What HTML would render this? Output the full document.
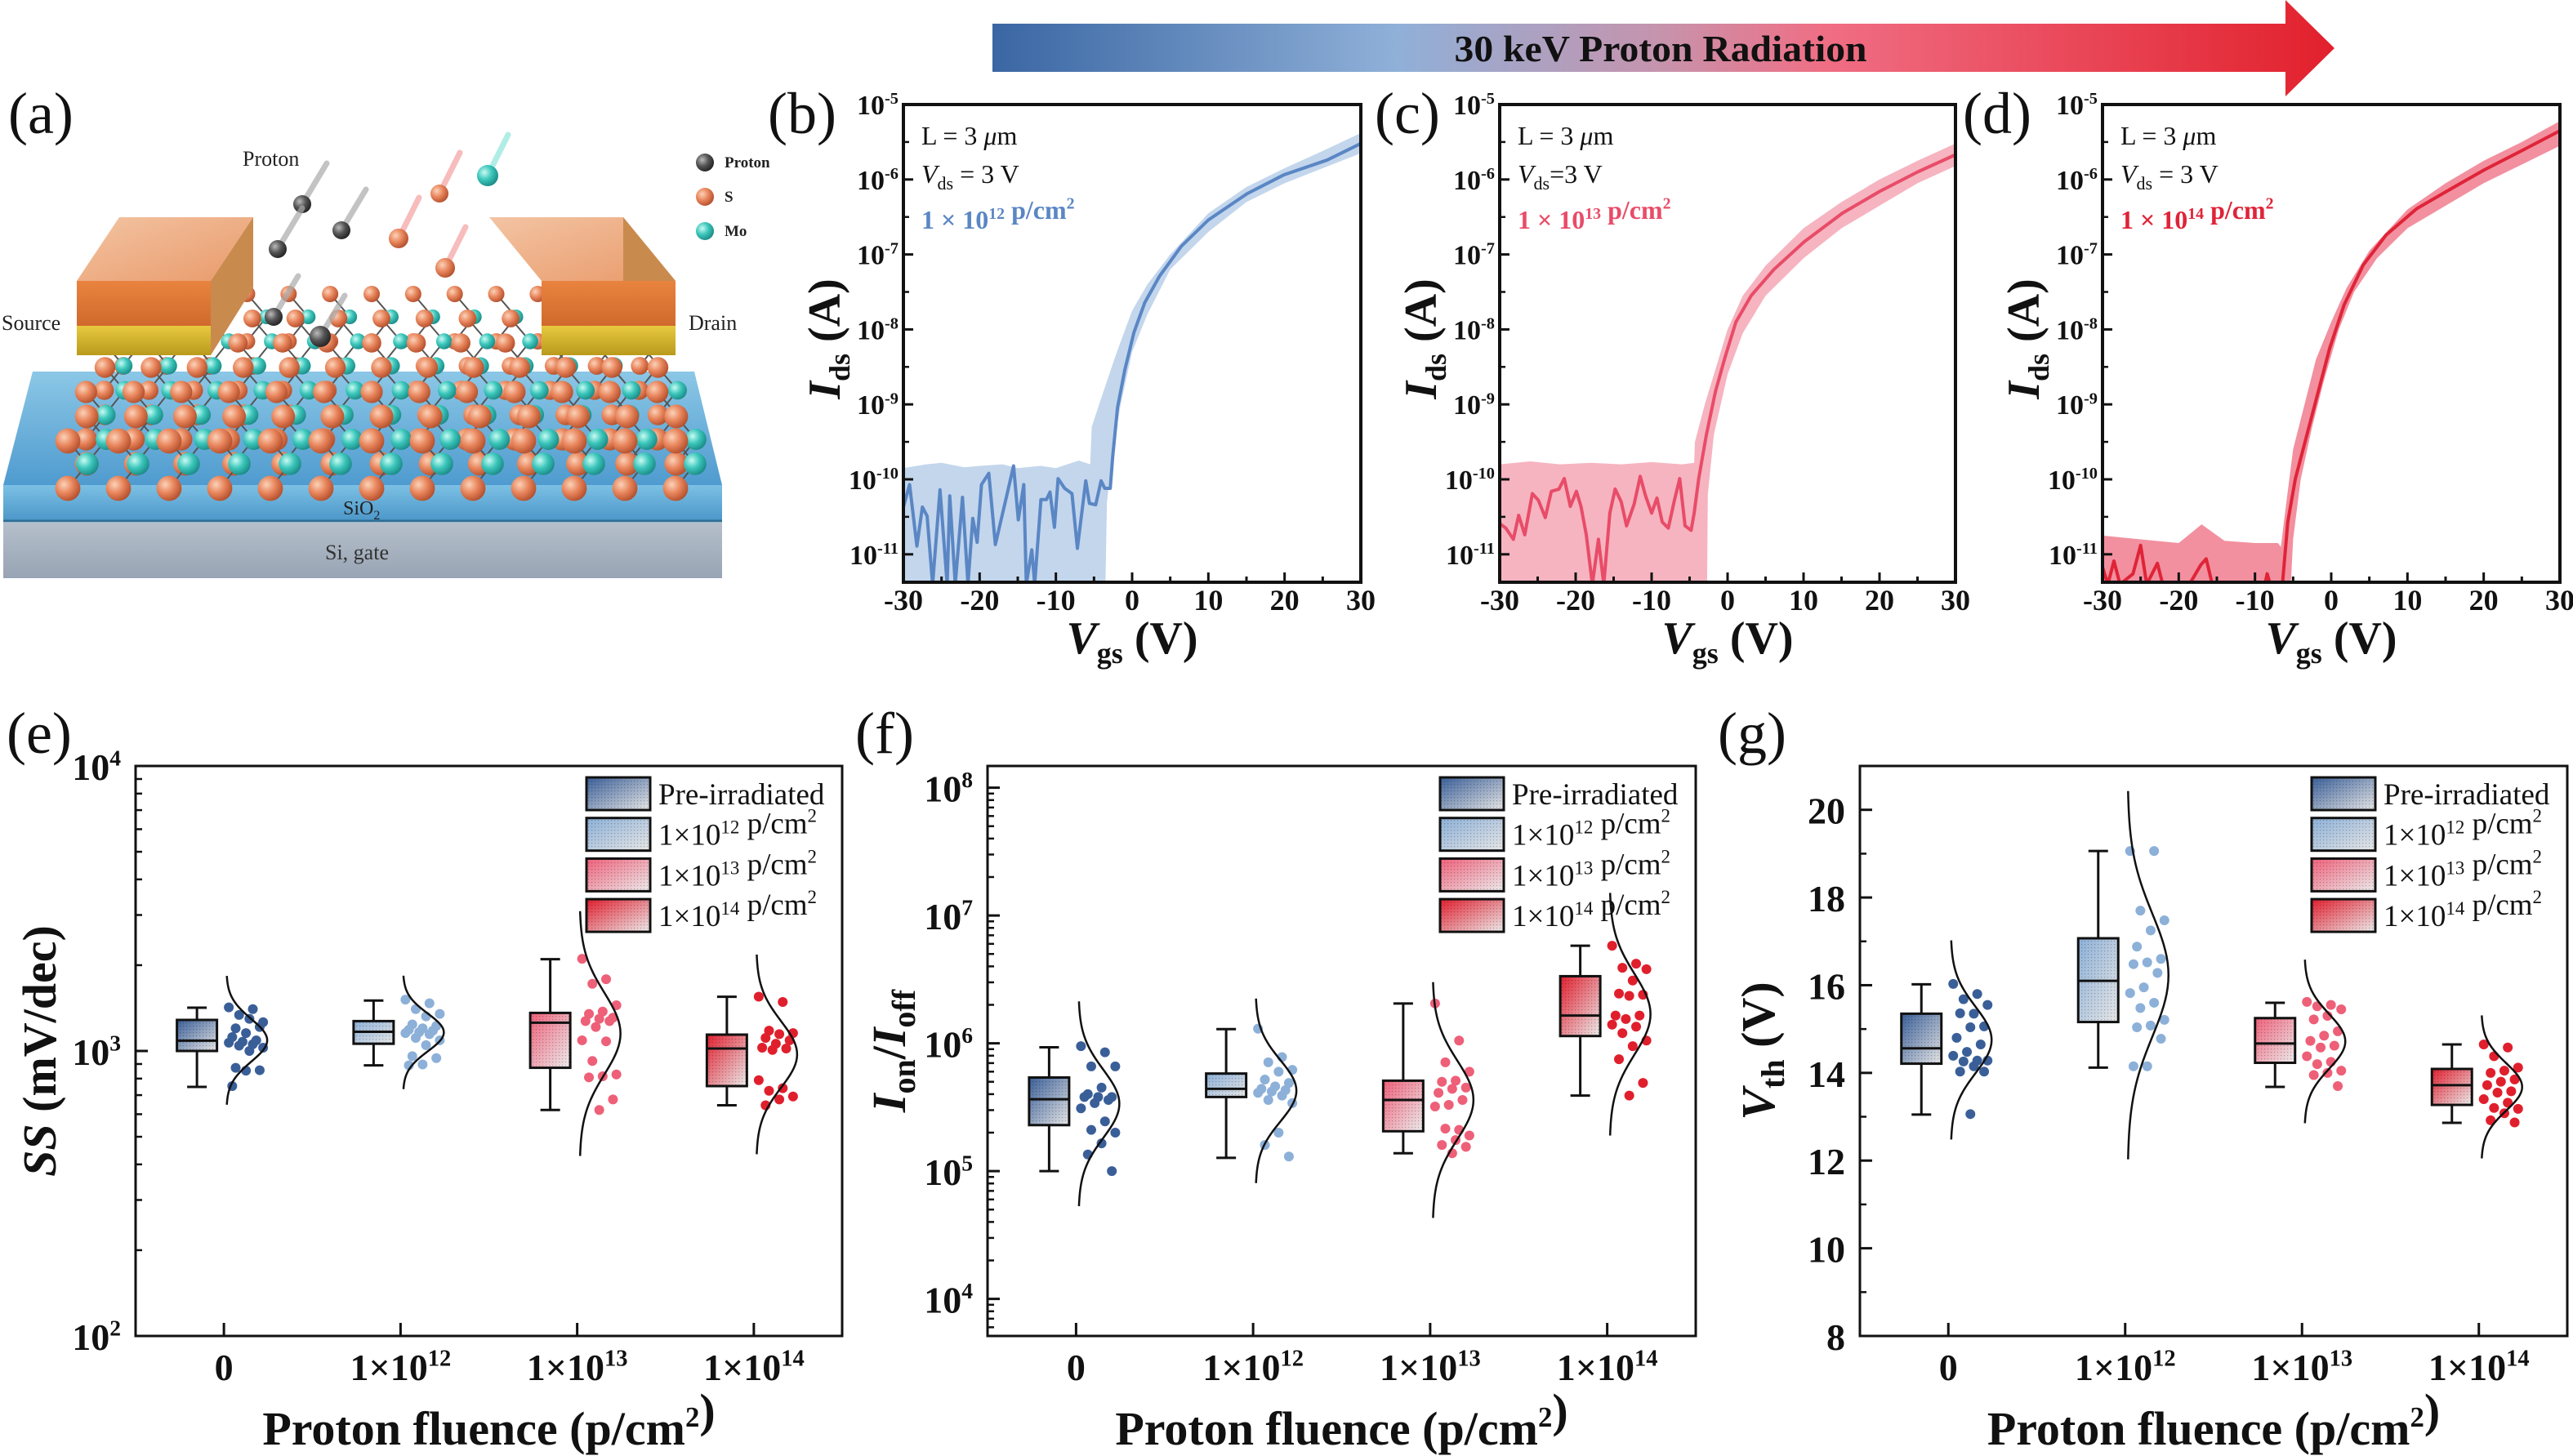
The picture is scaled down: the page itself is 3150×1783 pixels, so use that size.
<!DOCTYPE html>
<html><head><meta charset="utf-8"><style>
html,body{margin:0;padding:0;background:#fff;}
svg{display:block;font-family:"Liberation Serif",serif;}
</style></head><body>
<svg id="chart" width="3150" height="1783" viewBox="0 0 3150 1783" xmlns="http://www.w3.org/2000/svg">
<defs>
<linearGradient id="arrowGrad" x1="0" x2="1" y1="0" y2="0">
<stop offset="0" stop-color="#3a66a3"/><stop offset="0.3" stop-color="#8fb0d8"/><stop offset="0.5" stop-color="#c793ac"/><stop offset="0.62" stop-color="#f06e84"/><stop offset="1" stop-color="#e2202c"/></linearGradient>
<linearGradient id="g0" x1="0" y1="0" x2="1" y2="1"><stop offset="0" stop-color="#3a5f98"/><stop offset="1" stop-color="#e6e6e6"/></linearGradient>
<linearGradient id="g1" x1="0" y1="0" x2="1" y2="1"><stop offset="0" stop-color="#8cb0d8"/><stop offset="1" stop-color="#e6e6e6"/></linearGradient>
<linearGradient id="g2" x1="0" y1="0" x2="1" y2="1"><stop offset="0" stop-color="#f0607a"/><stop offset="1" stop-color="#ececec"/></linearGradient>
<linearGradient id="g3" x1="0" y1="0" x2="1" y2="1"><stop offset="0" stop-color="#e21e2e"/><stop offset="1" stop-color="#ececec"/></linearGradient>
<pattern id="stip" width="4" height="4" patternUnits="userSpaceOnUse"><rect x="0" y="0" width="1.2" height="1.2" fill="#000" opacity="0.25"/></pattern>
<linearGradient id="slabTop" x1="0" y1="0" x2="0" y2="1"><stop offset="0" stop-color="#8cc7e6"/><stop offset="1" stop-color="#4f9bcf"/></linearGradient>
<linearGradient id="slabFront" x1="0" y1="0" x2="0" y2="1"><stop offset="0" stop-color="#7cc0e4"/><stop offset="1" stop-color="#4b97c9"/></linearGradient>
<linearGradient id="siFront" x1="0" y1="0" x2="0" y2="1"><stop offset="0" stop-color="#b5bfcb"/><stop offset="1" stop-color="#98a4b4"/></linearGradient>
<linearGradient id="orange" x1="0" y1="0" x2="0" y2="1"><stop offset="0" stop-color="#e9833f"/><stop offset="1" stop-color="#d06a2c"/></linearGradient>
<linearGradient id="orangeTop" x1="0" y1="0" x2="1" y2="1"><stop offset="0" stop-color="#f3c4a3"/><stop offset="1" stop-color="#e99a6a"/></linearGradient>
<linearGradient id="gold" x1="0" y1="0" x2="0" y2="1"><stop offset="0" stop-color="#e8c940"/><stop offset="1" stop-color="#b99a1c"/></linearGradient>
<radialGradient id="sBall" cx="0.35" cy="0.35" r="0.7"><stop offset="0" stop-color="#fbd2b8"/><stop offset="0.5" stop-color="#e8855c"/><stop offset="1" stop-color="#b24f2c"/></radialGradient>
<radialGradient id="moBall" cx="0.35" cy="0.35" r="0.7"><stop offset="0" stop-color="#c8fbf3"/><stop offset="0.5" stop-color="#3cc6bb"/><stop offset="1" stop-color="#1a8a86"/></radialGradient>
<radialGradient id="pBall" cx="0.35" cy="0.35" r="0.7"><stop offset="0" stop-color="#bbbbbb"/><stop offset="0.5" stop-color="#555"/><stop offset="1" stop-color="#222"/></radialGradient>
</defs>
</svg>
<script>
// ---------- I-V data (b), (c), (d): Vgs in V, Ids as log10(A) ----------
const vgsB=[-30,-29.19,-28.23,-27.51,-26.89,-26.17,-25.2,-24.26,-23.92,-23.2,-22.25,-21.53,-20.9,-20.33,-19.76,-18.8,-17.94,-16.5,-15.55,-14.93,-14.21,-13.88,-13.16,-12.78,-11.96,-11.24,-10.77,-10.19,-9.71,-8.85,-7.89,-7.18,-6.08,-5.6,-4.78,-4.07,-3.59,-2.87,-2.54,-1.91,-0.96,0.24,1.67,3.59,6.46,10,15.07,19.86,25.6,30];
const idsLogB=[-10.37,-10.07,-10.89,-10.37,-10.49,-11.4,-10.14,-11.4,-10.22,-11.4,-10.24,-11.4,-10.52,-10.84,-10.07,-9.92,-10.87,-10.24,-9.82,-10.54,-10.07,-11.4,-10.94,-11.4,-10.27,-10.27,-10.17,-10.64,-9.99,-10.12,-10.19,-10.92,-10.02,-10.32,-10.34,-10.02,-10.12,-10.12,-9.69,-9.04,-8.54,-8.04,-7.64,-7.29,-6.89,-6.54,-6.19,-5.94,-5.74,-5.52];
const bandHiVgsB=[-30,-27,-25,-22,-20,-17,-15,-12,-10,-7,-5.5,-5.3,-4,-2,0,2,5,10,15,20,25,30];
const bandHiB=[-9.85,-9.8,-9.78,-9.84,-9.82,-9.8,-9.85,-9.82,-9.85,-9.75,-9.8,-9.3,-8.9,-8.3,-7.75,-7.4,-7.0,-6.45,-6.1,-5.85,-5.62,-5.38];
const bandLoVgsB=[-30,-3.5,-3.3,-2.5,-1.5,0,2,5,10,15,20,25,30];
const bandLoB=[-11.4,-11.4,-10.3,-9.6,-9.0,-8.3,-7.8,-7.2,-6.7,-6.3,-6.05,-5.85,-5.65];

const vgsC=[-30,-29.2,-28.2,-27.5,-26.7,-25.7,-24.9,-24,-23.2,-22.2,-21.5,-20.7,-19.9,-19.3,-18.6,-17.8,-17,-16.3,-15.5,-14.8,-14,-13.3,-12.3,-11.5,-10.8,-10,-9.3,-8.6,-7.8,-7,-6.3,-5.6,-4.8,-4.4,-3.8,-2.8,-1.6,-0.3,1.1,3.1,6.1,10.1,15.1,20,25,30];
const idsLogC=[-10.59,-10.65,-10.8,-10.48,-10.74,-10.19,-10.28,-10.51,-10.16,-10.13,-9.99,-10.36,-10.16,-10.36,-10.74,-11.4,-10.8,-11.4,-10.45,-10.13,-10.3,-10.62,-10.33,-9.96,-10.22,-10.45,-10.25,-10.57,-10.65,-10.28,-9.99,-10.62,-10.68,-10.45,-9.99,-9.41,-8.83,-8.36,-7.9,-7.55,-7.2,-6.83,-6.45,-6.16,-5.9,-5.67];
const bandHiVgsC=[-30,-26,-22,-18,-14,-10,-6,-4.4,-4.3,-3,-1.5,0,2,5,10,15,20,25,30];
const bandHiC=[-9.8,-9.76,-9.8,-9.78,-9.8,-9.77,-9.8,-9.78,-9.5,-9.0,-8.5,-8.0,-7.55,-7.15,-6.65,-6.3,-6.0,-5.75,-5.52];
const bandLoVgsC=[-30,-2.7,-2.6,-1.8,0,2,5,10,15,20,25,30];
const bandLoC=[-11.4,-11.4,-10.2,-9.4,-8.6,-8.05,-7.55,-7.05,-6.65,-6.35,-6.05,-5.82];

const vgsD=[-30,-29.3,-28.5,-27.7,-26,-25,-24.2,-22.8,-22.1,-18.6,-17.1,-16.4,-15.6,-8.7,-8.4,-8,-6.4,-5.7,-4.7,-3.2,-1.7,-0.2,1.7,4.2,7.2,11.2,15.1,20.1,25.1,30];
const idsLogD=[-11.17,-11.4,-11.09,-11.4,-11.26,-10.88,-11.4,-11.12,-11.4,-11.4,-11.14,-11.06,-11.4,-11.4,-11.26,-11.4,-11.4,-10.57,-9.99,-9.41,-8.83,-8.25,-7.67,-7.14,-6.74,-6.39,-6.16,-5.87,-5.61,-5.35];
const bandHiVgsD=[-30,-25,-20,-17,-14,-10,-7,-6.6,-6,-5,-3.5,-2,0,2,5,10,15,20,25,30];
const bandHiD=[-10.75,-10.8,-10.85,-10.6,-10.82,-10.85,-10.85,-10.9,-10.4,-9.6,-9.0,-8.4,-7.9,-7.45,-6.95,-6.4,-6.05,-5.75,-5.5,-5.22];
const bandLoVgsD=[-30,-5.3,-5,-4,-2.5,-1,1,3,6,10,15,20,25,30];
const bandLoD=[-11.4,-11.4,-10.8,-10.0,-9.3,-8.7,-8.0,-7.5,-7.05,-6.65,-6.35,-6.05,-5.8,-5.55];

// ---------- Box plot data ----------
const groupLabels=["0","1×10|12","1×10|13","1×10|14"];
const legendLabels=["Pre-irradiated","1×10|12| p/cm|2","1×10|13| p/cm|2","1×10|14| p/cm|2"];
// (e) SS in mV/dec
const ssWhiskerHi=[1419,1503,2099,1550];
const ssQ3=[1285,1273,1360,1141];
const ssMedian=[1087,1168,1257,1020];
const ssQ1=[1000,1060,873,753];
const ssWhiskerLo=[748,890,621,645];
const ssDots0=[1422,1402,1338,1262,1297,1201,1214,1155,1119,1090,1077,1069,1056,1044,1027,1000,873,856,853,753];
const ssDots1=[1514,1470,1402,1349,1323,1239,1224,1201,1187,1178,1164,1155,1146,1111,1090,1048,959,944,897,890];
const ssDots2=[2105,1786,1720,1447,1375,1349,1308,1297,1273,1273,1214,1090,1081,922,827,815,808,676,621];
const ssDots3=[1551,1486,1178,1155,1146,1111,1090,1060,1027,1020,1008,790,740,725,692,676,645];
// (f) Ion/Ioff
const onoffWhiskerHi=[9.3e5,1.29e6,2.05e6,5.8e6];
const onoffQ3=[5.4e5,5.8e5,5.1e5,3.35e6];
const onoffMedian=[3.65e5,4.4e5,3.6e5,1.65e6];
const onoffQ1=[2.29e5,3.8e5,2.05e5,1.14e6];
const onoffWhiskerLo=[1.0e5,1.27e5,1.38e5,3.9e5];
const onoffDots0=[9.5e5,8.5e5,6.6e5,6.6e5,4.5e5,4.0e5,3.8e5,3.8e5,3.8e5,3.6e5,3.4e5,3.1e5,2.45e5,2.1e5,2.0e5,1.65e5,1.35e5,1.0e5];
const onoffDots1=[1.3e6,7.8e5,7.1e5,6.2e5,6.0e5,5.2e5,4.9e5,4.6e5,4.4e5,4.3e5,4.2e5,4.1e5,3.9e5,3.6e5,3.4e5,2.0e5,1.6e5,1.3e5];
const onoffDots2=[2.05e6,1.05e6,7.1e5,6.0e5,5.1e5,5.0e5,4.5e5,4.4e5,4.1e5,3.6e5,3.3e5,3.2e5,2.1e5,2.15e5,1.9e5,1.75e5,1.6e5,1.55e5,1.38e5];
const onoffDots3=[5.8e6,4.2e6,3.9e6,3.8e6,3.1e6,2.45e6,2.4e6,2.35e6,1.65e6,1.65e6,1.55e6,1.4e6,1.35e6,1.2e6,1.05e6,9.5e5,7.5e5,4.9e5,3.9e5];
// (g) Vth in V
const vthWhiskerHi=[16.02,19.06,15.60,14.65];
const vthQ3=[15.35,17.07,15.25,14.09];
const vthMedian=[14.56,16.10,14.67,13.72];
const vthQ1=[14.21,15.16,14.23,13.27];
const vthWhiskerLo=[13.05,14.12,13.68,12.86];
const vthDots0=[16.03,15.80,15.68,15.55,15.35,15.36,15.06,15.04,14.80,14.65,14.48,14.39,14.28,14.26,14.28,14.15,14.03,14.03,13.06];
const vthDots1=[19.06,19.06,17.70,17.48,17.25,16.88,16.60,16.52,16.48,16.28,15.95,15.82,15.60,15.48,15.21,15.08,15.04,14.78,14.15,14.15];
const vthDots2=[15.62,15.55,15.52,15.45,15.30,15.22,14.95,14.85,14.73,14.62,14.58,14.38,14.25,14.20,14.05,14.00,13.95,13.70];
const vthDots3=[14.65,14.58,14.38,14.12,14.05,14.00,13.85,13.80,13.72,13.58,13.55,13.40,13.32,13.20,13.18,13.08,12.92,12.87];

const groupColors=["#3a5f98","#8cb0d8","#ee5f78","#e01f2d"];

const NS='http://www.w3.org/2000/svg';
const svg=document.getElementById('chart');
function mk(tag,attrs,parent){const e=document.createElementNS(NS,tag);for(const k in attrs)e.setAttribute(k,attrs[k]);(parent||svg).appendChild(e);return e;}
function rich(x,y,str,size,attrs,parent,supScale){
  const t=mk('text',Object.assign({x:x,y:y,'font-size':size},attrs||{}),parent);
  const parts=str.split('|');let sup=false;const ss=size*(supScale||0.62);
  parts.forEach(p=>{ if(p===''){sup=!sup;return;}
    const ts=mk('tspan',sup?{'font-size':ss,dy:-size*0.38}:{dy:0},t);
    ts.textContent=p;
    if(sup){ const back=mk('tspan',{dy:size*0.38,'font-size':size},t); back.textContent=''; }
    sup=!sup;});
  return t;
}

// ---------- Arrow ----------
const arrowG=mk('g',{});


mk('polygon',{points:'1215,29 2798,29 2798,0 2858,59 2798,118 2798,88 1215,88',fill:'url(#arrowGrad)'},arrowG);
const arrowText=mk('text',{x:2033,y:75,'font-size':46,'font-weight':'bold','text-anchor':'middle',fill:'#111',textLength:505,lengthAdjust:'spacingAndGlyphs'},arrowG);
arrowText.textContent='30 keV Proton Radiation';



// ---------- Panel labels ----------
[['(a)',10,163],['(b)',940,163],['(c)',1683,163],['(d)',2403,163],['(e)',8,922],['(f)',1047,922],['(g)',2103,922]].forEach(p=>{
  const t=mk('text',{x:p[1],y:p[2],'font-size':72,fill:'#111'});
  t.textContent=p[0];
  
  
});

// ---------- Panel (a) illustration ----------
(function(){
  const g=mk('g',{});
  
  
  mk('rect',{x:4,y:640,width:880,height:68,fill:'url(#siFront)'},g);
  mk('polygon',{points:'4,594 884,594 850,455 40,455',fill:'url(#slabTop)'},g);
  mk('rect',{x:4,y:594,width:880,height:44,fill:'url(#slabFront)'},g);
  mk('line',{x1:4,y1:638,x2:884,y2:638,stroke:'#2f6e97','stroke-width':3},g);
  for(let r=0;r<7;r++){
    const y=360+r*30, sx=0.82+r*0.03, xoff=455;
    const rS=10+r*0.9, rM=9+r*0.8;
    for(let i=-6;i<=6;i++){
      const x=xoff+i*62*sx+(r%2)*12;
      mk('line',{x1:x,y1:y,x2:x+24,y2:y+28,stroke:'#555','stroke-width':2},g);
      mk('line',{x1:x+24,y1:y+28,x2:x,y2:y+58,stroke:'#555','stroke-width':2},g);
      mk('circle',{cx:x,cy:y+58,r:rS,fill:'url(#sBall)'},g);
      mk('circle',{cx:x+24,cy:y+28,r:rM,fill:'url(#moBall)'},g);
      mk('circle',{cx:x,cy:y,r:rS,fill:'url(#sBall)'},g);
    }
  }
  function electrode(x,w,dx){
    mk('polygon',{points:`${x},344 ${x+w},344 ${x+w+dx},266 ${x+dx},266`,fill:'url(#orangeTop)'},g);
    mk('polygon',{points:`${x+w},344 ${x+w+dx},266 ${x+w+dx},352 ${x+w},435`,fill:'#c98a4e'},g);
    mk('rect',{x:x,y:344,width:w,height:55,fill:'url(#orange)'},g);
    mk('rect',{x:x,y:399,width:w,height:36,fill:'url(#gold)'},g);
  }
  electrode(94,164,52);
  electrode(663,164,-64);
  [[370,250,'pBall',11],[418,282,'pBall',11],[340,305,'pBall',11],[335,388,'pBall',11],[392,412,'pBall',13],[538,237,'sBall',11],[488,292,'sBall',12],[545,328,'sBall',12],[597,215,'moBall',13]].forEach(p=>{
    mk('line',{x1:p[0]-(p[2]==='pBall'?-30:-25),y1:p[1]-50,x2:p[0],y2:p[1],stroke:p[2]==='pBall'?'#aaa':(p[2]==='sBall'?'#f4a0a0':'#8fe6dc'),'stroke-width':7,'stroke-linecap':'round',opacity:0.7},g);
    mk('circle',{cx:p[0],cy:p[1],r:p[3],fill:`url(#${p[2]})`},g);
  });
  mk('circle',{cx:863,cy:199,r:11,fill:'url(#pBall)'},g);
  mk('circle',{cx:863,cy:241,r:11,fill:'url(#sBall)'},g);
  mk('circle',{cx:863,cy:283,r:11,fill:'url(#moBall)'},g);
  [['Proton',887,205],['S',887,247],['Mo',887,289]].forEach(p=>{const t=mk('text',{x:p[1],y:p[2],'font-size':19,'font-weight':'bold',fill:'#222'},g);t.textContent=p[0];});
  [['Proton',297,203,26],['Source',2,404,26],['Drain',843,404,26]].forEach(p=>{const t=mk('text',{x:p[1],y:p[2],'font-size':p[3],fill:'#222'},g);t.textContent=p[0];});
  const sio=rich(420,630,'SiO',24,{fill:'#222'},g); const sub=mk('tspan',{dy:6,'font-size':16},sio); sub.textContent='2';
  const si=mk('text',{x:398,y:685,'font-size':26,fill:'#333'},g); si.textContent='Si, gate';
})();

// ---------- I-V panels ----------
function drawIV(cfg){
  const x0=cfg.x0,x1=cfg.x1,y0=128,y1=713;
  const xs=v=>x0+(v+30)/60*(x1-x0);
  const ys=l=>Math.min(y1+4,y0+(-5-l)*91.8);
  const g=mk('g',{});
  
  
  const cid='clip'+cfg.name;
  const cp=mk('clipPath',{id:cid},g); mk('rect',{x:x0,y:y0,width:x1-x0,height:y1-y0},cp);
  const pg=mk('g',{'clip-path':`url(#${cid})`},g);
  let pts=cfg.hiV.map((v,i)=>xs(v)+','+ys(cfg.hi[i]));
  pts=pts.concat(cfg.loV.map((v,i)=>xs(v)+','+ys(cfg.lo[i])).reverse());
  const band=mk('polygon',{points:pts.join(' '),fill:cfg.band},pg);
  
  
  const line=mk('polyline',{points:cfg.v.map((v,i)=>xs(v)+','+ys(cfg.ids[i])).join(' '),fill:'none',stroke:cfg.line,'stroke-width':4,'stroke-linejoin':'round'},pg);
  
  
  const frame=mk('rect',{x:x0,y:y0,width:x1-x0,height:y1-y0,fill:'none',stroke:'#111','stroke-width':4},g);
  
  
  for(let e=-5;e>=-11;e--){
    const y=ys(e);
    mk('line',{x1:x0,y1:y,x2:x0+12,y2:y,stroke:'#111','stroke-width':3},g);
    const t=rich(x0-6,y+12,'10|'+e,34,{'font-weight':'bold','text-anchor':'end',fill:'#111'},g,0.6);
    
    
  }
  for(let e=-5.5;e>=-11;e-=1){const y=ys(e);mk('line',{x1:x0,y1:y,x2:x0+7,y2:y,stroke:'#111','stroke-width':2.5},g);}
  for(let v=-30;v<=30;v+=5){
    const x=xs(v);const maj=v%10===0;
    mk('line',{x1:x,y1:y1,x2:x,y2:y1-(maj?12:7),stroke:'#111','stroke-width':3},g);
    if(maj){const t=mk('text',{x:x,y:747,'font-size':36,'font-weight':'bold','text-anchor':'middle',fill:'#111'},g);t.textContent=String(v);
      
      }
  }
  const xt=mk('text',{x:(x0+x1)/2,y:800,'font-size':56,'font-weight':'bold','text-anchor':'middle',fill:'#111'},g);
  const a1=mk('tspan',{'font-style':'italic'},xt);a1.textContent='V';
  const a2=mk('tspan',{'font-size':36,dy:12},xt);a2.textContent='gs';
  const a3=mk('tspan',{dy:-12},xt);a3.textContent=' (V)';
  
  
  const yt=mk('text',{x:0,y:0,'font-size':56,'font-weight':'bold','text-anchor':'middle',fill:'#111',transform:`translate(${x0-78},${415}) rotate(-90)`},g);
  const b1=mk('tspan',{'font-style':'italic'},yt);b1.textContent='I';
  const b2=mk('tspan',{'font-size':36,dy:12},yt);b2.textContent='ds';
  const b3=mk('tspan',{dy:-12},yt);b3.textContent=' (A)';
  
  
  const t1=mk('text',{x:x0+22,y:177,'font-size':32,fill:'#111'},g);
  const t1a=mk('tspan',{},t1);t1a.textContent='L = 3 ';
  const t1b=mk('tspan',{'font-style':'italic'},t1);t1b.textContent='μ';
  const t1c=mk('tspan',{},t1);t1c.textContent='m';
  
  
  const t2=mk('text',{x:x0+22,y:224,'font-size':32,fill:'#111'},g);
  const t2a=mk('tspan',{'font-style':'italic'},t2);t2a.textContent='V';
  const t2b=mk('tspan',{'font-size':22,dy:8},t2);t2b.textContent='ds';
  const t2c=mk('tspan',{dy:-8},t2);t2c.textContent=cfg.vdsText;
  
  
  const t3=rich(x0+22,280,cfg.fluence,32,{'font-weight':'bold',fill:cfg.line},g,0.62);
  
  
}
drawIV({name:'panel-b',x0:1106,x1:1666,v:vgsB,ids:idsLogB,hiV:bandHiVgsB,hi:bandHiB,loV:bandLoVgsB,lo:bandLoB,line:'#5a86c4',band:'#c3d6ec',vdsText:' = 3 V',fluence:'1 × 10|12| p/cm|2'});
drawIV({name:'panel-c',x0:1836,x1:2394,v:vgsC,ids:idsLogC,hiV:bandHiVgsC,hi:bandHiC,loV:bandLoVgsC,lo:bandLoC,line:'#e84c68',band:'#f6b4c0',vdsText:'=3 V',fluence:'1 × 10|13| p/cm|2'});
drawIV({name:'panel-d',x0:2574,x1:3134,v:vgsD,ids:idsLogD,hiV:bandHiVgsD,hi:bandHiD,loV:bandLoVgsD,lo:bandLoD,line:'#df2438',band:'#f2909f',vdsText:' = 3 V',fluence:'1 × 10|14| p/cm|2'});

// ---------- Box plot panels ----------
function drawBox(cfg){
  const x0=cfg.x0,x1=cfg.x1,y0=938,y1=1636;
  const tf=cfg.log?(v=>Math.log10(v)):(v=>v);
  const ys=v=>y1-(tf(v)-cfg.lo)/(cfg.hi-cfg.lo)*(y1-y0);
  const yt=t=>y1-(t-cfg.lo)/(cfg.hi-cfg.lo)*(y1-y0);
  const sp=(x1-x0)/4;
  const g=mk('g',{});
  
  
  const frame=mk('rect',{x:x0,y:y0,width:x1-x0,height:y1-y0,fill:'none',stroke:'#111','stroke-width':3},g);
  
  
  cfg.ticks.forEach(t=>{
    const y=yt(t);
    mk('line',{x1:x0,y1:y,x2:x0+15,y2:y,stroke:'#111','stroke-width':3},g);
    const lab=rich(x0-18,y+17,cfg.log?('10|'+t):String(t),46,{'font-weight':'bold','text-anchor':'end',fill:'#111'},g,0.6);
    
    
  });
  cfg.minor.forEach(t=>{const y=yt(t);mk('line',{x1:x0,y1:y,x2:x0+8,y2:y,stroke:'#111','stroke-width':2.5},g);});
  for(let i=0;i<4;i++){
    const cx=x0+(i+0.5)*sp, bx=cx-33, bw=49;
    const gg=mk('g',{},g);
    
    
    mk('line',{x1:cx,y1:y1,x2:cx,y2:y1-16,stroke:'#111','stroke-width':3},g);
    const xl=rich(cx,1690,groupLabels[i],46,{'font-weight':'bold','text-anchor':'middle',fill:'#111'},g,0.62);
    
    
    mk('line',{x1:bx,y1:ys(cfg.wHi[i]),x2:bx,y2:ys(cfg.q3[i]),stroke:'#111','stroke-width':3},gg);
    mk('line',{x1:bx,y1:ys(cfg.q1[i]),x2:bx,y2:ys(cfg.wLo[i]),stroke:'#111','stroke-width':3},gg);
    mk('line',{x1:bx-12,y1:ys(cfg.wHi[i]),x2:bx+12,y2:ys(cfg.wHi[i]),stroke:'#111','stroke-width':3},gg);
    mk('line',{x1:bx-12,y1:ys(cfg.wLo[i]),x2:bx+12,y2:ys(cfg.wLo[i]),stroke:'#111','stroke-width':3},gg);
    const rect=mk('rect',{x:bx-bw/2,y:ys(cfg.q3[i]),width:bw,height:ys(cfg.q1[i])-ys(cfg.q3[i]),fill:`url(#g${i})`,stroke:'#111','stroke-width':3},gg);
    
    
    mk('rect',{x:bx-bw/2,y:ys(cfg.q3[i]),width:bw,height:ys(cfg.q1[i])-ys(cfg.q3[i]),fill:'url(#stip)'},gg);
    const med=mk('line',{x1:bx-bw/2,y1:ys(cfg.med[i]),x2:bx+bw/2,y2:ys(cfg.med[i]),stroke:'#111','stroke-width':3},gg);
    
    
    const dots=cfg.dots[i];
    dots.forEach((v,k)=>{
      const jx=cx+6+(((k*7)%11)/10)*42;
      const c=mk('circle',{cx:jx,cy:ys(v),r:6,fill:groupColors[i]},gg);
      
      
    });
    const tv=dots.map(tf);const m=tv.reduce((a,b)=>a+b,0)/tv.length;
    const sd=Math.sqrt(tv.reduce((a,b)=>a+(b-m)*(b-m),0)/(tv.length-1));
    const cp=[];for(let s=-3.0;s<=3.001;s+=0.1){const tt=m+s*sd;cp.push((cx+3+50*Math.exp(-s*s/2))+','+yt(tt));}
    const curve=mk('polyline',{points:cp.join(' '),fill:'none',stroke:'#111','stroke-width':2.5},gg);
    
    
  }
  const lx=x1-313;
  for(let i=0;i<4;i++){
    const y=952+i*49.7;
    const sw=mk('rect',{x:lx,y:y,width:78,height:40,fill:`url(#g${i})`,stroke:'#111','stroke-width':3},g);
    
    
    mk('rect',{x:lx,y:y,width:78,height:40,fill:'url(#stip)'},g);
    const lt=rich(lx+88,y+33,legendLabels[i],37,{fill:'#111'},g,0.62);
    
    
  }
  const xt=rich((x0+x1)/2,1769,'Proton fluence (p/cm|2|)',58,{'font-weight':'bold','text-anchor':'middle',fill:'#111'},g,0.6);
  
  
  const ytt=mk('text',{x:0,y:0,'font-size':58,'font-weight':'bold','text-anchor':'middle',fill:'#111',transform:`translate(${cfg.titleX},1287) rotate(-90)`},g);
  cfg.title.forEach(p=>{const s=mk('tspan',p.a||{},ytt);s.textContent=p.t;});
  
  
}
function logMinor(a,b){const r=[];for(let e=a;e<b;e++)for(let k=2;k<=9;k++)r.push(e+Math.log10(k));return r;}
drawBox({name:'panel-e-ss',x0:166,x1:1031,log:true,lo:2,hi:4,ticks:[2,3,4],minor:logMinor(2,4),
  wHi:ssWhiskerHi,q3:ssQ3,med:ssMedian,q1:ssQ1,wLo:ssWhiskerLo,dots:[ssDots0,ssDots1,ssDots2,ssDots3],titleX:68,
  title:[{t:'SS',a:{'font-style':'italic'}},{t:' (mV/dec)'}]});
drawBox({name:'panel-f-onoff',x0:1209,x1:2076,log:true,lo:3.71,hi:8.17,ticks:[4,5,6,7,8],minor:logMinor(3,8).filter(t=>t>3.71),
  wHi:onoffWhiskerHi,q3:onoffQ3,med:onoffMedian,q1:onoffQ1,wLo:onoffWhiskerLo,dots:[onoffDots0,onoffDots1,onoffDots2,onoffDots3],titleX:1108,
  title:[{t:'I',a:{'font-style':'italic'}},{t:'on',a:{'font-size':40,dy:12}},{t:'/',a:{dy:-12}},{t:'I',a:{'font-style':'italic'}},{t:'off',a:{'font-size':40,dy:12}}]});
drawBox({name:'panel-g-vth',x0:2277,x1:3143,log:false,lo:8,hi:21,ticks:[8,10,12,14,16,18,20],minor:[9,11,13,15,17,19],
  wHi:vthWhiskerHi,q3:vthQ3,med:vthMedian,q1:vthQ1,wLo:vthWhiskerLo,dots:[vthDots0,vthDots1,vthDots2,vthDots3],titleX:2172,
  title:[{t:'V',a:{'font-style':'italic'}},{t:'th',a:{'font-size':40,dy:12}},{t:' (V)',a:{dy:-12}}]});
</script>
</body></html>
